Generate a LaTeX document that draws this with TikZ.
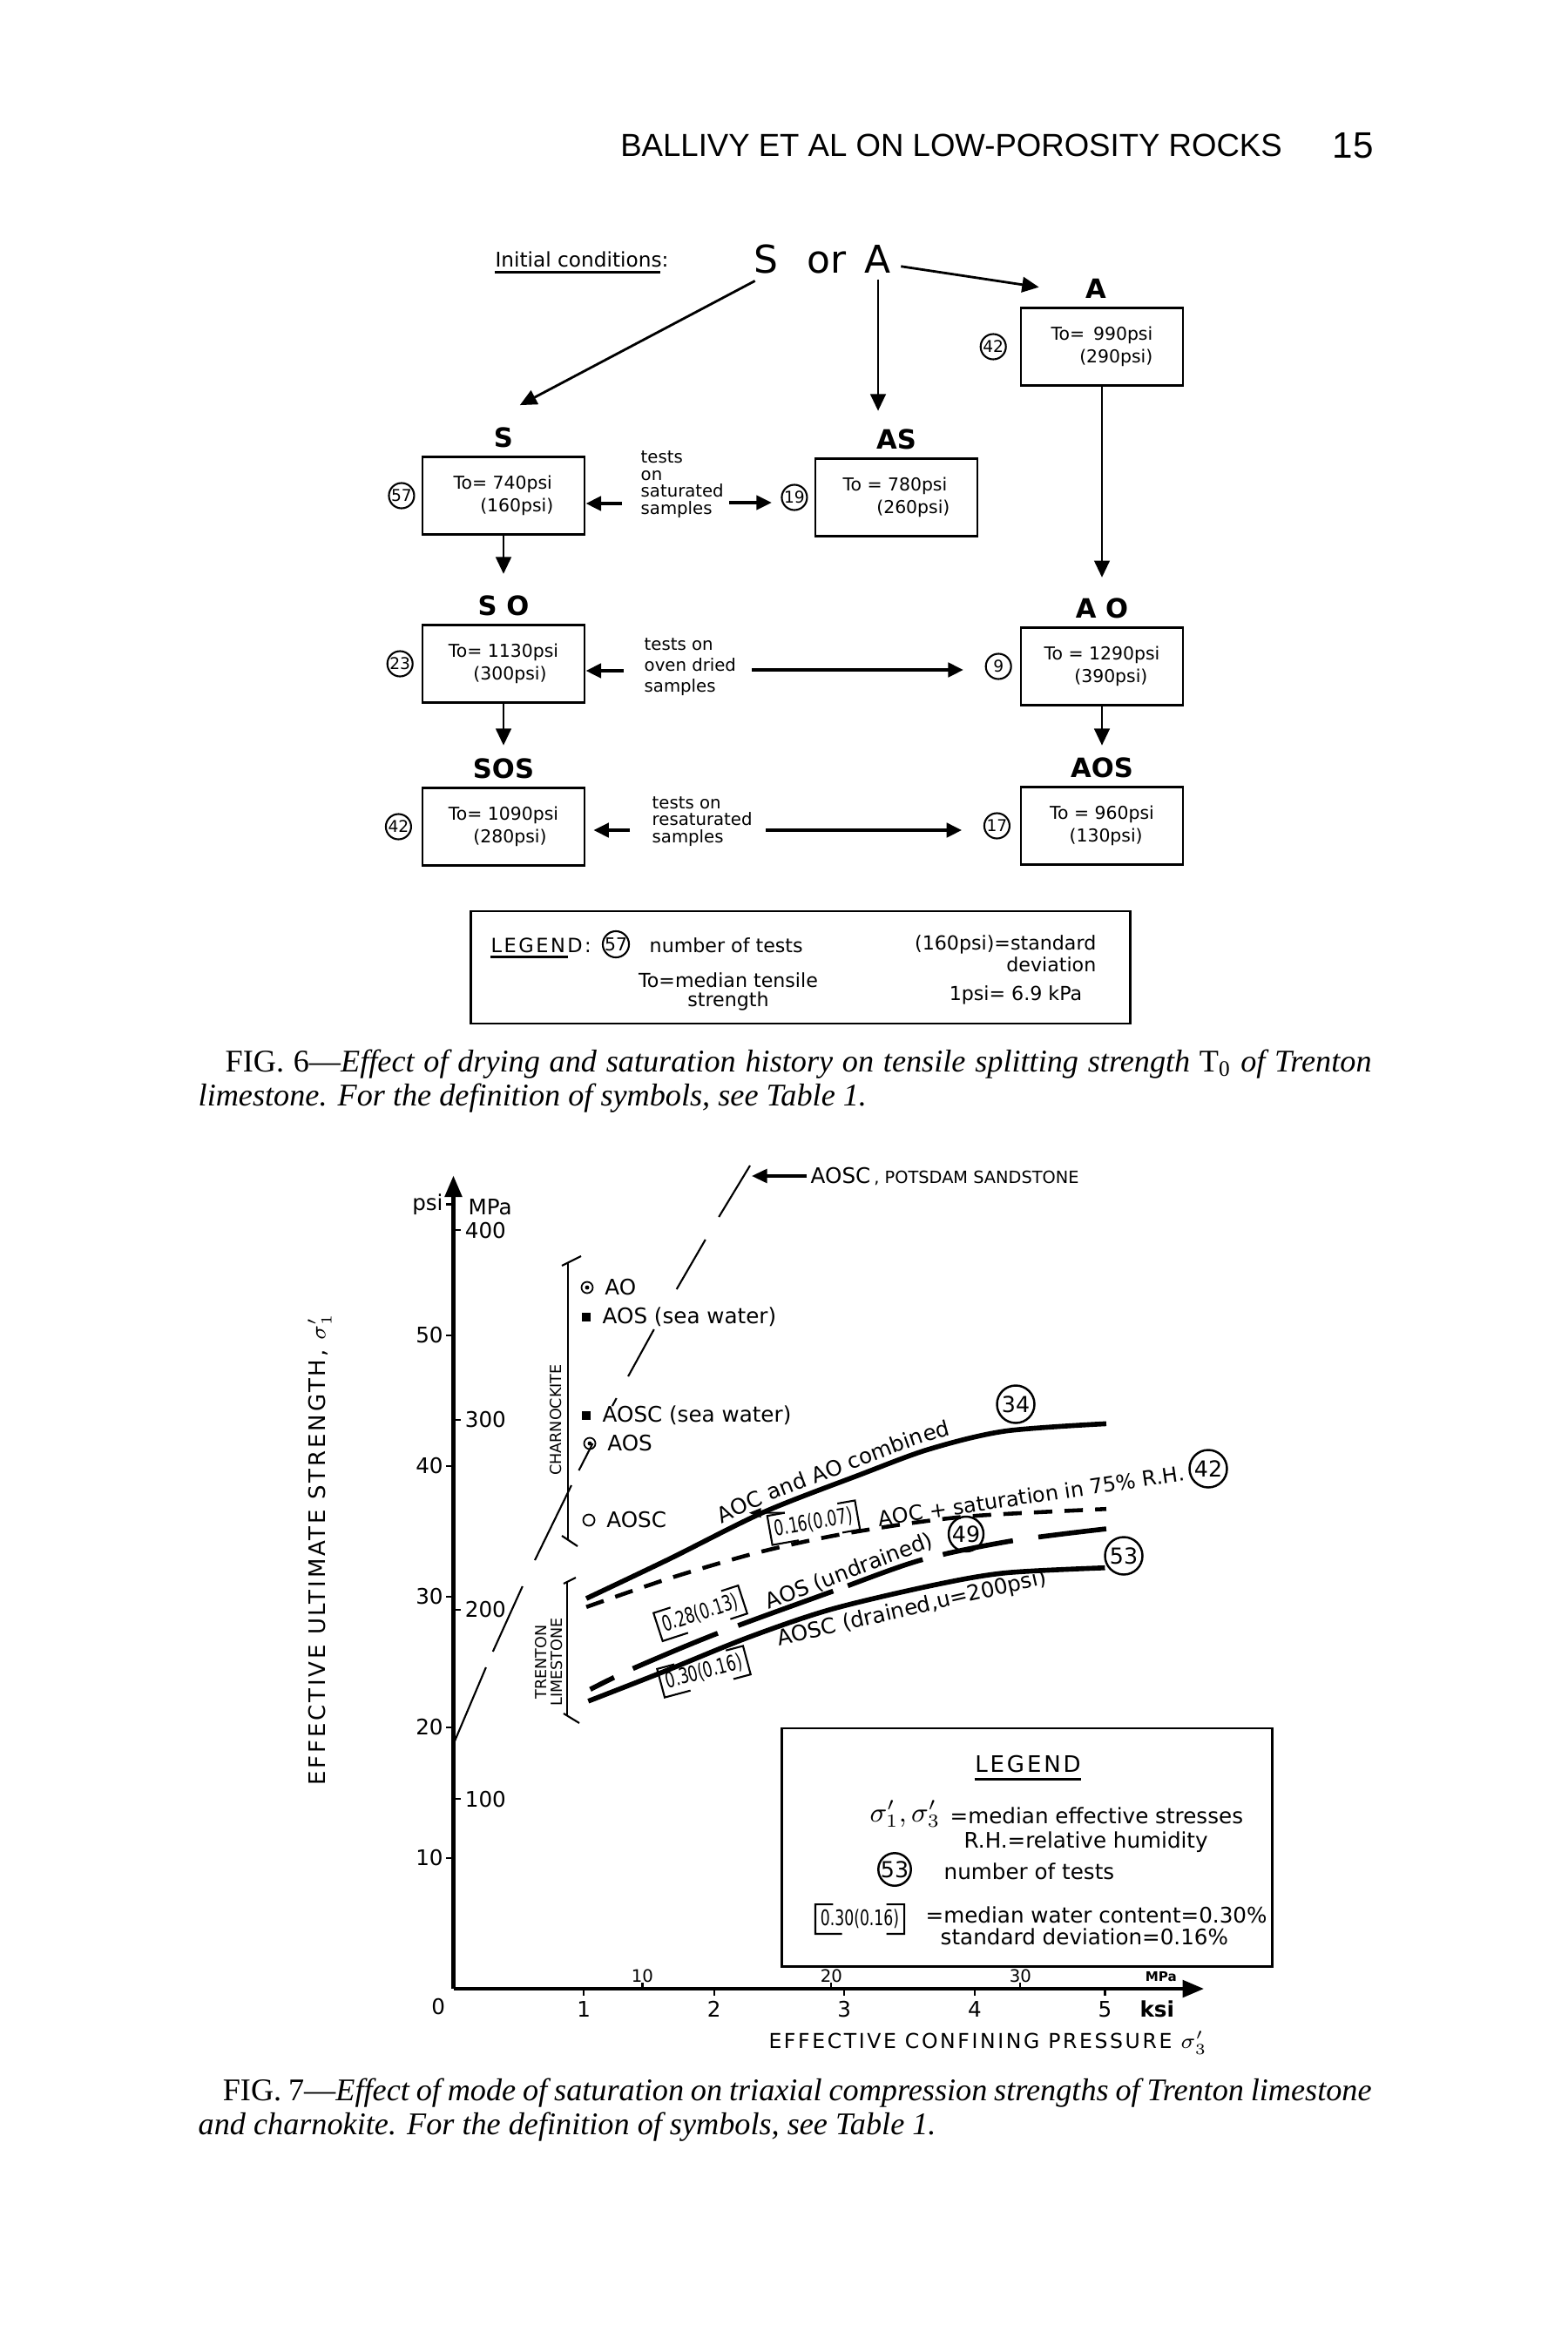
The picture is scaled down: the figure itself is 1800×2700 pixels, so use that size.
\documentclass[tikz,border=0pt]{standalone}
\usepackage{fontspec}
\setmainfont{Liberation Serif}
\newfontfamily\figfont{DejaVu Sans}
\newfontfamily\spcfont[LetterSpace=11]{DejaVu Sans}
\newfontfamily\narfont[FakeStretch=0.7]{DejaVu Sans}
\newfontfamily\headfont{Liberation Sans}
\usetikzlibrary{positioning,arrows.meta,calc,decorations.text}

\newcommand\fsz[1]{\fontsize{#1}{#1}\selectfont}
\newcommand\curvfont{\figfont\fontsize{7}{7}\selectfont}
% square brackets round a water content label
\newcommand\wbrk[1]{%
  \draw[thinl] ($(#1.north west)!.2!(#1.north east)$) -- (#1.north west)
    -- (#1.south west) -- ($(#1.south west)!.3!(#1.south east)$);
  \draw[thinl] ($(#1.north east)!.2!(#1.north west)$) -- (#1.north east)
    -- (#1.south east) -- ($(#1.south east)!.2!(#1.south west)$);}

\tikzset{
  every node/.style={inner sep=0pt},
  bigl/.style={font=\figfont\fsz{12.5}},
  lab/.style={font=\figfont\bfseries\fsz{8.7}},
  stbox/.style={draw, line width=0.8pt, minimum width=1.86cm, minimum height=0.89cm,
    align=left, font=\figfont\fontsize{5.8}{7.3}\selectfont},
  ncirc/.style={draw, circle, line width=0.6pt, minimum size=0.29cm, font=\figfont\fsz{5.3}},
  note/.style={align=left, font=\figfont\fontsize{5.6}{5.6}\selectfont},
  arr/.style={line width=0.8pt, -{Triangle[length=5.5pt,width=5pt]}},
  tarr/.style={line width=1.1pt, -{Triangle[length=5pt,width=4.6pt]}},
  axisln/.style={line width=1.3pt, -{Triangle[length=7pt,width=5.5pt]}},
  chl/.style={font=\figfont\fsz{7}},
  ccirc/.style={draw, circle, line width=0.7pt, minimum size=0.43cm, font=\figfont\fsz{7.2}},
  wcl/.style={font=\narfont\fsz{7}, inner xsep=1.5pt, inner ysep=1.5pt},
  omk/.style={draw, circle, line width=0.5pt, minimum size=0.13cm},
  smk/.style={fill, minimum size=0.1cm},
  curv/.style={line width=1.6pt},
  thinl/.style={line width=0.6pt},
  capt/.style={anchor=north west, align=left, font=\fontsize{10.3}{11.25}\selectfont},
}

\begin{document}
\begin{tikzpicture}[x=0.01cm,y=-0.01cm]
\fill[white] (0,0) rectangle (1800,2700);
\useasboundingbox (0,0) rectangle (1800,2700);

% running head
\node[font=\headfont\fsz{10.4}] (hdr) at (1092,167) {BALLIVY ET AL ON LOW-POROSITY ROCKS};
\node[font=\headfont\fsz{12}] (pgno) at (1553,167) {15};

% Fig. 6: drying and saturation history
\node[font=\figfont\fsz{6.6}, anchor=base] (init) at (668,307) {Initial conditions:};
\draw[line width=0.7pt] ([yshift=-1.5pt]init.base west) -- ([yshift=-1.5pt,xshift=-3pt]init.base east);
\node[bigl, anchor=base] (sIn) at (879,313) {S};
\node[bigl, anchor=base] (orIn) at (949,313) {or};
\node[bigl, anchor=base] (aIn) at (1008,313) {A};

\node[stbox] (aBox) at (1265,398) {To= \,990psi\\\hspace*{1.6em}(290psi)};
\node[stbox] (asBox) at (1029,571) {To = 780psi\\\hspace*{1.9em}(260psi)};
\node[stbox] (sBox) at (578,569) {To= 740psi\\\hspace*{1.5em}(160psi)};
\node[stbox] (soBox) at (578,762) {To= 1130psi\\\hspace*{1.4em}(300psi)};
\node[stbox] (aoBox) at (1265,765) {To = 1290psi\\\hspace*{1.7em}(390psi)};
\node[stbox] (sosBox) at (578,949) {To= 1090psi\\\hspace*{1.4em}(280psi)};
\node[stbox] (aosBox) at (1265,948) {To = 960psi\\\hspace*{1.1em}(130psi)};

\node[lab, above=2.5pt of aBox, xshift=-2pt] (aLab) {A};
\node[lab, above=2.5pt of asBox] (asLab) {AS};
\node[lab, above=2.5pt of sBox] (sLab) {S};
\node[lab, above=2.5pt of soBox] (soLab) {S O};
\node[lab, above=2.5pt of aoBox] (aoLab) {A O};
\node[lab, above=2.5pt of sosBox] (sosLab) {SOS};
\node[lab, above=2.5pt of aosBox] (aosLab) {AOS};

\node[ncirc, left=4.2pt of aBox] (n42a) {42};
\node[ncirc, left=2pt of asBox] (n19) {19};
\node[ncirc, left=2pt of sBox] (n57) {57};
\node[ncirc, left=2.5pt of soBox] (n23) {23};
\node[ncirc, left=2.5pt of aoBox] (n9) {9};
\node[ncirc, left=3pt of sosBox] (n42s) {42};
\node[ncirc, left=3pt of aosBox] (n17) {17};

\node[note, anchor=west] (satTxt) at (735,556) {tests\\on\\saturated\\samples};
\node[note, anchor=west, font=\figfont\fontsize{5.6}{6.8}\selectfont] (ovTxt) at (739,766) {tests on\\oven dried\\samples};
\node[note, anchor=west] (resTxt) at (748,943) {tests on\\resaturated\\samples};

% arrows
\draw[arr] ([xshift=-3.5pt,yshift=-2.3pt]sIn.south) -- ([xshift=2pt,yshift=7pt]sLab.north east);
\draw[arr] ([xshift=3pt,yshift=-2.5pt]aIn.east) -- ([xshift=-15pt,yshift=0.5pt]aLab.west);
\draw[arr, shorten <=2pt, shorten >=5.7pt] (aIn.south) -- (aIn.south |- asLab.north);
\draw[arr, shorten >=6.5pt] (aBox.south) -- (aoLab.north);
\draw[arr, shorten >=6.8pt] (sBox.south) -- (soLab.north);
\draw[arr, shorten >=4pt] (soBox.south) -- (sosLab.north);
\draw[arr, shorten >=3.7pt] (aoBox.south) -- (aosLab.north);

\coordinate (satL) at (714,578);
\coordinate (satR) at (837,577);
\coordinate (ovL) at (716,770);
\coordinate (ovR) at (863,769);
\coordinate (resL) at (723,953);
\coordinate (resR) at (879,953);
\draw[tarr] (satL) -- (satL -| sBox.east);
\draw[tarr, shorten >=3pt] (satR) -- (satR -| n19.west);
\draw[tarr] (ovL) -- (ovL -| soBox.east);
\draw[tarr, shorten >=7pt] (ovR) -- (ovR -| n9.west);
\draw[tarr, shorten >=2.5pt] (resL) -- (resL -| sosBox.east);
\draw[tarr, shorten >=7pt] (resR) -- (resR -| n17.west);

% legend of Fig. 6
\node[draw, line width=0.8pt, minimum width=7.56cm, minimum height=1.29cm] (leg6) at (919,1110.5) {};
\node[font=\spcfont\fsz{6.4}, anchor=base west] (leg6t) at (563,1093) {LEGEND:};
\draw[line width=0.7pt] ([yshift=-1.6pt]leg6t.base west) -- ++(89,0);
\node[ncirc, font=\figfont\fsz{5.8}] (leg6c) at (707,1084) {57};
\node[font=\figfont\fsz{6.3}, anchor=base west] (leg6n) at (745,1093) {number of tests};
\node[align=center, font=\figfont\fontsize{6.3}{6.2}\selectfont] (leg6to) at (836,1138) {To=median tensile\\strength};
\node[align=right, anchor=east, font=\figfont\fontsize{6.3}{5.6}\selectfont] (leg6sd) at (1259,1095) {(160psi)=standard\\deviation};
\node[font=\figfont\fsz{6.3}] (leg6u) at (1166,1142) {1psi= 6.9 kPa};

% caption of Fig. 6
\node[capt] (cap6) at (227,1204)
  {\hspace*{8.8pt}\makebox[374.2pt][s]{FIG. 6---\textit{Effect of drying and saturation history on tensile splitting strength} T\textsubscript{0} \textit{of Trenton}}\\
   \textit{limestone. For the definition of symbols, see Table 1.}};

% Fig. 7: triaxial strengths, data in ksi
\begin{scope}[shift={(520.5,2283)}, x=1.495cm, y=0.15cm]
  \draw[axisln] (0,0) -- (5.76,0);
  \draw[axisln] (0,0) -- (0,62.2);
  \foreach \kk in {1,...,5} {
    \draw[thinl] (\kk,0) -- (\kk,-0.5);
    \node[chl] (kx\kk) at (\kk,-1.55) {\kk};
  }
  \foreach \mv in {10,20,30} {
    \draw[thinl] (\mv*0.145038,0) -- (\mv*0.145038,0.5);
    \node[font=\figfont\fsz{5.6}] (mx\mv) at (\mv*0.145038,0.95) {\mv};
  }
  \foreach \pp/\pl in {10/10,20/20,30/30,40/40,50/50,60/psi} {
    \draw[thinl] (0,\pp) -- (-0.055,\pp);
    \node[chl, anchor=east] (py\pp) at (-0.075,\pp) {\pl};
  }
  \foreach \mv in {100,200,300,400} {
    \draw[thinl] (0,\mv*0.145038) -- (0.06,\mv*0.145038);
    \node[chl, anchor=west] (my\mv) at (0.085,\mv*0.145038) {\mv};
  }
  \node[chl, anchor=west] (mpaY) at (0.11,59.8) {MPa};
  \node[font=\figfont\bfseries\fsz{4.3}] (mpaX) at (5.43,0.9) {MPa};
  \node[font=\figfont\bfseries\fsz{7}] (ksi) at (5.4,-1.55) {ksi};
  \node[chl] (orig) at (-0.115,-1.35) {0};

  % envelopes
  \draw[curv] plot[smooth] coordinates {(1.02,29.85) (1.66,32.89) (2.38,36.45) (3.12,39.32) (3.65,41.27) (4.23,42.65) (5.01,43.22)};
  \path[decorate, decoration={text along path, text align=center, raise=2.5pt,
      text={|\curvfont|AOC and AO combined}}]
    plot[smooth] coordinates {(1.02,29.85) (1.66,32.89) (2.38,36.45) (3.12,39.32) (3.65,41.27) (4.23,42.65) (5.01,43.22)};
  \draw[line width=1.3pt, dash pattern=on 6pt off 4pt] plot[smooth] coordinates {(1.02,29.2) (1.66,31.4) (2.31,33.3) (2.89,34.6) (3.5,35.6) (4.04,36.2) (5.01,36.7)};
  \draw[curv, dash pattern=on 8.7pt off 6.8pt on 30pt off 7.1pt on 33pt off 5.1pt on 25.9pt off 6.8pt on 23.3pt off 8.4pt on 40pt]
    plot[smooth] coordinates {(1.05,22.9) (1.38,24.5) (2.03,27.2) (2.91,30.4) (3.59,32.8) (4.28,34.25) (5.01,35.18)};
  \draw[curv] plot[smooth] coordinates {(1.035,22.0) (1.6,24.2) (2.256,26.85) (2.89,29.0) (3.65,30.8) (4.227,31.8) (5.0,32.2)};
\end{scope}

% Potsdam sandstone envelope, broken where it crosses labels
\foreach \xa/\ya/\xb/\yb in {861/1338/825.2/1397, 809.8/1423/776.7/1480, 750.8/1526/721.1/1580,
    707.7/1605/702.9/1614, 680.4/1657/664.5/1688, 656/1705/614/1791, 599.8/1821/565.8/1896, 557.9/1914/521/2001}
  \draw[thinl] (\xa,\ya) -- (\xb,\yb);
\node[font=\figfont\fsz{7}, anchor=base west] (potsd) at (930,1358) {AOSC\,{\fsz{5.5}, POTSDAM SANDSTONE}};
\coordinate (potTip) at (863,0);
\draw[line width=0.9pt, -{Triangle[length=5pt,width=4.5pt]}] ([xshift=-1pt]potsd.west) -- (potsd.west -| potTip);

% rock type brackets
\coordinate (chTop) at (652,1449);
\coordinate (chBot) at (652,1767);
\draw[thinl] (chTop) -- (chBot);
\draw[thinl] ([shift={(-7,4)}]chTop) -- ([shift={(15,-7)}]chTop);
\draw[thinl] ([shift={(-7,-4)}]chBot) -- ([shift={(11,8)}]chBot);
\node[font=\figfont\fsz{5}, rotate=90] (charn) at (638,1630) {CHARNOCKITE};
\coordinate (trTop) at (651,1815);
\coordinate (trBot) at (651,1970);
\draw[thinl] (trTop) -- (trBot);
\draw[thinl] ([shift={(-4,3)}]trTop) -- ([shift={(10,-4)}]trTop);
\draw[thinl] ([shift={(-4,-3)}]trBot) -- ([shift={(14,8)}]trBot);
\node[font=\figfont\fontsize{5}{5.2}\selectfont, rotate=90, align=center] (trent) at (630,1908) {TRENTON\\LIMESTONE};

% charnockite points
\node[omk] (mkAO) at (674,1478) {};
\fill (mkAO.center) circle (0.7pt);
\node[chl, right=3.5pt of mkAO] (tAO) {AO};
\node[smk] (mkAOSsw) at (673,1512) {};
\node[chl, right=3.5pt of mkAOSsw] (tAOSsw) {AOS (sea water)};
\node[smk] (mkAOSCsw) at (673,1625) {};
\node[chl, right=3.5pt of mkAOSCsw] (tAOSCsw) {AOSC (sea water)};
\node[omk] (mkAOS) at (677,1657) {};
\fill (mkAOS.center) circle (0.7pt);
\node[chl, right=3.5pt of mkAOS] (tAOS) {AOS};
\node[omk] (mkAOSC) at (676,1745) {};
\node[chl, right=3.5pt of mkAOSC] (tAOSC) {AOSC};

% curve labels
\node[font=\figfont\fsz{6.8}, rotate=8.5] (satLab) at (1184,1717) {AOC + saturation in 75\% R.H.};
\node[ccirc] (c34) at (1166,1612) {34};
\node[ccirc] (c42) at (1387,1686) {42};
\node[ccirc, minimum size=0.4cm] (c49) at (1109,1761) {49};
\node[ccirc] (c53) at (1290,1786) {53};
\node[chl, rotate=21] (undLab) at (975,1804) {AOS (undrained)};
\node[chl, rotate=13] (drnLab) at (1047,1847) {AOSC (drained,u=200psi)};
\node[wcl, rotate=10] (w16) at (934,1748) {0.16(0.07)};
\node[wcl, rotate=18] (w28) at (804,1852) {0.28(0.13)};
\node[wcl, rotate=15] (w30) at (808,1919) {0.30(0.16)};
\wbrk{w16}\wbrk{w28}\wbrk{w30}
\draw[thinl, -{Triangle[length=4pt,width=3pt]}] ($(w16.north west)!.2!(w16.north east)$) -- ([xshift=-6pt,yshift=1pt]w16.north west);

% legend of Fig. 7
\node[draw, line width=0.8pt, minimum width=5.62cm, minimum height=2.73cm] (leg7) at (1179,2120.5) {};
\node[font=\spcfont\fsz{7.4}] (leg7t) at (1180,2025) {LEGEND};
\draw[line width=0.7pt] ([yshift=-2pt]leg7t.south west) -- ([yshift=-2pt]leg7t.south east);
\node[font=\figfont\fsz{9}] (legSig) at (1039,2082) {$\sigma'_1,\sigma'_3$};
\node[font=\figfont\fsz{7}, anchor=west] (legSigT) at (1090,2084) {=median effective stresses};
\node[font=\figfont\fsz{7}, anchor=west] (legRH) at (1106,2115) {R.H.=relative humidity};
\node[ccirc, minimum size=0.35cm] (leg7c) at (1027,2146) {53};
\node[font=\figfont\fsz{7}, anchor=west] (leg7n) at (1083,2148) {number of tests};
\node[wcl] (leg7w) at (987,2203) {0.30(0.16)};
\wbrk{leg7w}
\node[font=\figfont\fsz{7}, anchor=west] (leg7wt) at (1062,2198) {=median water content=0.30\%};
\node[font=\figfont\fsz{7}, anchor=west] (leg7sd) at (1079,2223) {standard deviation=0.16\%};

% axis titles
\node[font=\spcfont\fsz{6.7}] (xTitle) at (1134,2345) {EFFECTIVE CONFINING PRESSURE $\sigma'_3$};
\node[font=\spcfont\fsz{7.4}, rotate=90] (yTitle) at (367,1779) {EFFECTIVE ULTIMATE STRENGTH, $\sigma'_1$};

% caption of Fig. 7
\node[capt] (cap7) at (227,2385)
  {\hspace*{8pt}\makebox[375pt][s]{FIG. 7---\textit{Effect of mode of saturation on triaxial compression strengths of Trenton limestone}}\\
   \textit{and charnokite. For the definition of symbols, see Table 1.}};
\end{tikzpicture}
\end{document}
